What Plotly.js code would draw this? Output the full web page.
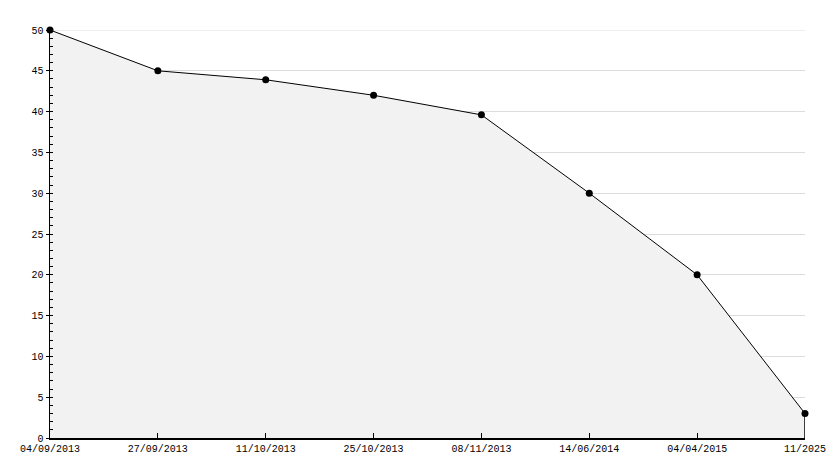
<!DOCTYPE html>
<html><head><meta charset="utf-8">
<script src="https://cdn.plot.ly/plotly-3.0.1.min.js"></script>
<style>html,body{margin:0;padding:0;background:#fff}#chart{width:834px;height:468px}</style>
</head><body><div id="chart"></div>
<script>
const dates = ["04/09/2013","27/09/2013","11/10/2013","25/10/2013","08/11/2013","14/06/2014","04/04/2015","11/2025"];
const values = [50, 45, 43.9, 42, 39.6, 30, 20, 3];
const yTicks = [0,5,10,15,20,25,30,35,40,45,50];

const last = dates.length - 1;
const yMax = yTicks[yTicks.length - 1];
const FONT = 'Liberation Mono, DejaVu Sans Mono, monospace';
const trace = {
  x: dates, y: values, type: 'scatter', mode: 'lines+markers',
  fill: 'tozeroy', fillcolor: '#f2f2f2', cliponaxis: false,
  line: {color: '#000', width: 1},
  marker: {color: '#000', size: 7, symbol: 'circle'},
  hoverinfo: 'x+y'
};
const layout = {
  width: 834, height: 468,
  margin: {l: 50, r: 29, t: 30, b: 30},
  paper_bgcolor: '#fff', plot_bgcolor: '#fff',
  showlegend: false,
  font: {family: FONT, size: 10, color: '#000'},
  xaxis: {
    type: 'category', range: [0, last], showgrid: false, zeroline: false,
    showline: true, linecolor: '#000', linewidth: 1.5,
    ticks: 'inside', ticklen: 5, tickcolor: '#000', tickwidth: 1,
    tickfont: {family: FONT, size: 10, color: '#000'}
  },
  yaxis: {
    range: [0, yMax], tickvals: yTicks, showgrid: true, gridcolor: '#dcdcdc', gridwidth: 1,
    zeroline: false, showline: true, linecolor: '#000', linewidth: 1.5,
    ticks: 'outside', ticklen: 3, tickcolor: '#000', tickwidth: 1,
    minor: {dtick: 1, ticks: 'inside', ticklen: 3, tickcolor: '#000', showgrid: false},
    tickfont: {family: FONT, size: 10, color: '#000'}
  },
  shapes: [{
    type: 'line', xref: 'paper', yref: 'y',
    x0: 0, x1: 1, y0: yMax, y1: yMax,
    line: {color: '#dcdcdc', width: 1}, layer: 'below'
  }, {
    type: 'line', xref: 'x', yref: 'y',
    x0: dates[last], x1: dates[last], y0: 0, y1: values[last],
    line: {color: '#000', width: 1.5}, layer: 'above'
  }]
};
Plotly.newPlot('chart', [trace], layout, {displayModeBar: false, staticPlot: true});
</script></body></html>
